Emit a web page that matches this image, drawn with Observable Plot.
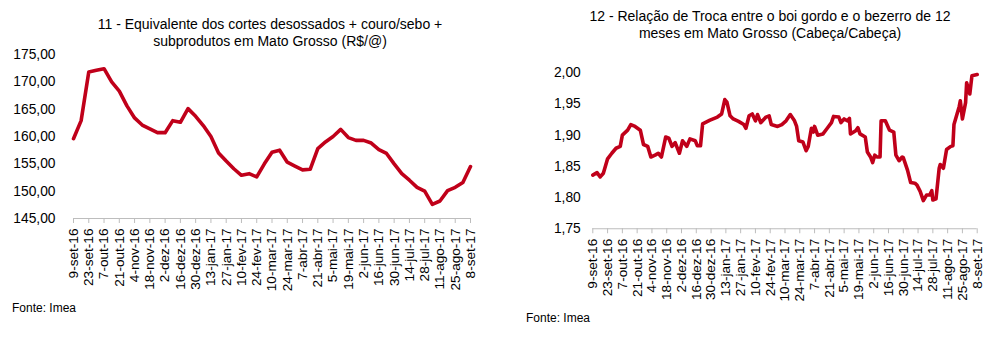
<!DOCTYPE html>
<html>
<head>
<meta charset="utf-8">
<script src="https://cdn.jsdelivr.net/npm/d3@7"></script>
<script src="https://cdn.jsdelivr.net/npm/@observablehq/plot@0.6"></script>
<style>
  html, body { margin: 0; padding: 0; background: #fff; }
  body { width: 1002px; height: 348px; position: relative; overflow: hidden; font-family: "Liberation Sans", Arial, sans-serif; color: #000; }
  .title { position: absolute; text-align: center; font-size: 14px; line-height: 16.5px; }
  .src { position: absolute; font-size: 12px; }
  .chart { position: absolute; }
</style>
</head>
<body>
<div class="title" id="t1" style="left:20px; top:16px; width:500px;"></div>
<div class="title" id="t2" style="left:520px; top:8px; width:500px;"></div>
<div class="chart" id="c1" style="left:0px; top:40px;"></div>
<div class="chart" id="c2" style="left:500px; top:60px;"></div>
<div class="src" id="s1" style="left:12px; top:301px;"></div>
<div class="src" id="s2" style="left:526px; top:311px;"></div>
<script>
// ---- Texts ----
const title1 = ["11 - Equivalente dos cortes desossados + couro/sebo +", "subprodutos em Mato Grosso (R$/@)"];
const title2 = ["12 - Relação de Troca entre o boi gordo e o bezerro de 12", "meses em Mato Grosso (Cabeça/Cabeça)"];
const sourceText = "Fonte: Imea";

// ---- Tick labels (every 14 days from 9-set-16) ----
const tickLabels = ["9-set-16","23-set-16","7-out-16","21-out-16","4-nov-16","18-nov-16","2-dez-16","16-dez-16","30-dez-16","13-jan-17","27-jan-17","10-fev-17","24-fev-17","10-mar-17","24-mar-17","7-abr-17","21-abr-17","5-mai-17","19-mai-17","2-jun-17","16-jun-17","30-jun-17","14-jul-17","28-jul-17","11-ago-17","25-ago-17","8-set-17"];
const tickDays = [0,14,28,42,56,70,84,98,112,126,140,154,168,182,196,210,224,238,252,266,280,294,308,322,336,350,364];

// ---- Chart 11: weekly values (R$/@), days since 9-set-16 ----
const leftDays = [0,7,14,21,28,35,42,49,56,63,70,77,84,91,98,105,112,119,126,133,140,147,154,161,168,175,182,189,196,203,210,217,224,231,238,245,252,259,266,273,280,287,294,301,308,315,322,329,336,343,350,357,364];
const leftValues = [159.6,162.9,171.8,172.1,172.4,170.0,168.3,165.6,163.4,162.1,161.4,160.7,160.7,162.9,162.6,165.1,163.7,162.0,160.0,157.0,155.5,154.1,152.9,153.2,152.6,155.0,157.1,157.5,155.3,154.6,153.9,154.0,157.8,159.0,160.0,161.3,159.8,159.3,159.3,158.8,157.6,156.9,155.0,153.2,152.0,150.7,150.0,147.6,148.2,150.1,150.7,151.6,154.5];
const leftYTicks = [145,150,155,160,165,170,175];

// ---- Chart 12: exchange ratio (head/head), days since 9-set-16 ----
const rightDays = [0,4,7,10,14,18,22,26,28,33,36,40,45,48,52,55,59,62,65,69,72,75,78,82,85,89,92,97,99,102,104,111,118,122,125,127,130,133,138,143,145,148,151,154,156,159,164,167,169,175,179,183,187,191,193,195,199,202,204,207,209,210,213,218,222,226,228,233,235,238,241,243,244,249,251,253,258,260,263,265,267,269,272,273,277,281,285,287,290,293,294,298,301,305,307,310,313,316,319,321,322,325,328,329,332,335,339,341,342,347,348,350,353,354,357,359,364];
const rightValues = [1.836,1.840,1.833,1.839,1.862,1.871,1.879,1.882,1.900,1.908,1.917,1.914,1.908,1.885,1.882,1.865,1.868,1.871,1.865,1.897,1.895,1.882,1.888,1.871,1.891,1.882,1.894,1.891,1.883,1.883,1.918,1.924,1.929,1.934,1.957,1.953,1.931,1.926,1.922,1.917,1.911,1.931,1.934,1.923,1.933,1.920,1.929,1.931,1.917,1.914,1.917,1.923,1.933,1.923,1.914,1.891,1.889,1.875,1.882,1.911,1.905,1.914,1.900,1.902,1.911,1.920,1.930,1.929,1.920,1.926,1.923,1.927,1.902,1.907,1.912,1.902,1.897,1.873,1.865,1.856,1.868,1.865,1.865,1.923,1.923,1.908,1.905,1.868,1.859,1.865,1.864,1.844,1.824,1.823,1.820,1.810,1.795,1.804,1.804,1.811,1.796,1.798,1.847,1.853,1.847,1.877,1.882,1.883,1.917,1.946,1.955,1.926,1.952,1.984,1.966,1.995,1.997];
const rightYTicks = [1.75,1.80,1.85,1.90,1.95,2.00];

const red = "#c0001a";
const fmt2 = d => d.toFixed(2).replace(".", ",");
const labelOf = d => tickLabels[tickDays.indexOf(d)];
const font = "Liberation Sans, Arial, sans-serif";

document.getElementById("t1").innerHTML = title1.join("<br>");
document.getElementById("t2").innerHTML = title2.join("<br>");
document.getElementById("s1").textContent = sourceText;
document.getElementById("s2").textContent = sourceText;

function chart({days, values, yTicks, yDomain, width, height, mt, mb, ml, mr, ypad, xpad}) {
  const data = days.map((d, i) => ({d, v: values[i]}));
  return Plot.plot({
    width, height,
    marginTop: mt, marginBottom: mb, marginLeft: ml, marginRight: mr,
    style: {fontFamily: font, fontSize: "13.5px", color: "#000", background: "transparent", overflow: "visible"},
    x: {domain: [0, 364]},
    y: {domain: yDomain},
    marks: [
      Plot.ruleY([yDomain[0]], {stroke: "#bdbdbd", strokeWidth: 1}),
      Plot.axisY({ticks: yTicks, tickSize: 0, tickPadding: ypad, tickFormat: fmt2, label: null, fontSize: 13.8}),
      Plot.axisX({ticks: tickDays, tickSize: 5, stroke: "#bdbdbd", fill: "#000", tickRotate: -90, tickPadding: xpad, tickFormat: labelOf, label: null, fontSize: 13.6}),
      Plot.line(data, {x: "d", y: "v", stroke: red, strokeWidth: 3.6, strokeLinejoin: "round", strokeLinecap: "round"})
    ]
  });
}

document.getElementById("c1").append(chart({
  days: leftDays, values: leftValues, yTicks: leftYTicks, yDomain: [145, 175],
  width: 500, height: 255, mt: 14, mb: 77, ml: 73, mr: 30, ypad: 18, xpad: 5
}));
document.getElementById("c2").append(chart({
  days: rightDays, values: rightValues, yTicks: rightYTicks, yDomain: [1.75, 2.00],
  width: 502, height: 226, mt: 12.25, mb: 57.75, ml: 92.3, mr: 25.3, ypad: 12, xpad: 5
}));
</script>
</body>
</html>
